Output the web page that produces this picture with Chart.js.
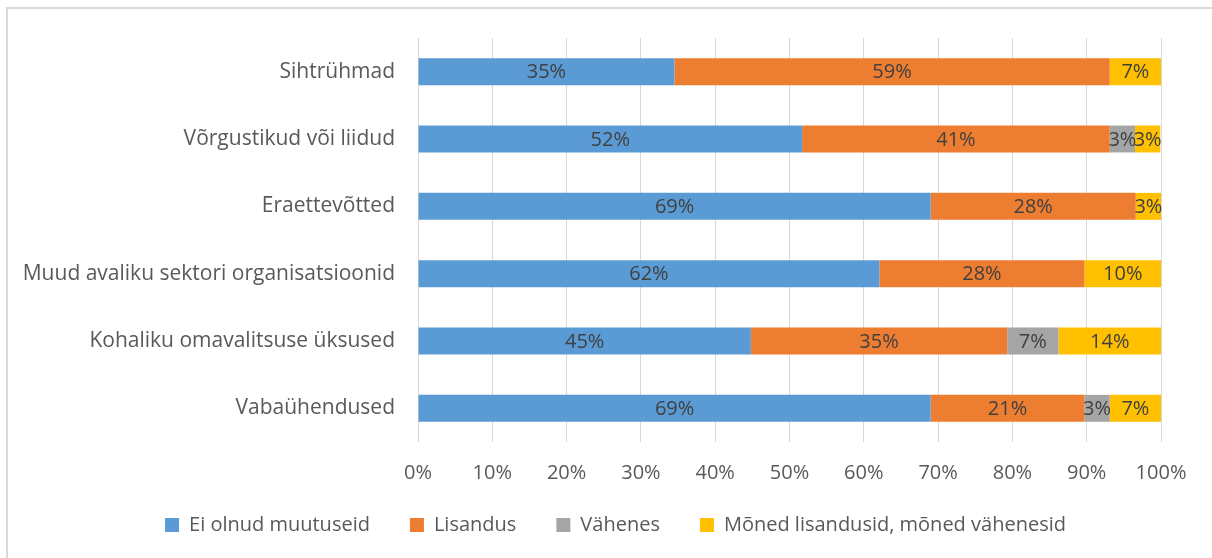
<!DOCTYPE html>
<html>
<head>
<meta charset="utf-8">
<script src="https://cdn.jsdelivr.net/npm/chart.js@4.4.1/dist/chart.umd.min.js"></script>
<style>
  body { margin: 0; background: #fff; }
  #wrap { position: relative; width: 1212px; height: 558px; overflow: hidden; }
  #frame { position: absolute; left: 6px; top: 7px; width: 1240px; height: 600px; border: 2px solid #d9d9d9; box-sizing: border-box; }
  #c { position: absolute; left: 0; top: 0; }
</style>
</head>
<body>
<div id="wrap">
  <div id="frame"></div>
  <canvas id="c" width="1212" height="558"></canvas>
</div>
<script>
// Categories, top to bottom
const categories = [
  'Sihtrühmad',
  'Võrgustikud või liidud',
  'Eraettevõtted',
  'Muud avaliku sektori organisatsioonid',
  'Kohaliku omavalitsuse üksused',
  'Vabaühendused'
];

// Shares in percent
const noChange   = [34.5, 51.7, 69.0, 62.1, 44.8, 69.0];
const added      = [58.6, 41.4, 27.6, 27.6, 34.5, 20.7];
const decreased  = [0,    3.4,  0,    0,    6.9,  3.4];
const mixed      = [6.9,  3.4,  3.4,  10.3, 13.8, 6.9];

const seriesNames = ['Ei olnud muutuseid', 'Lisandus', 'Vähenes', 'Mõned lisandusid, mõned vähenesid'];
const seriesColors = ['#5b9bd5', '#ed7d31', '#a5a5a5', '#ffc000'];

const xTicks = [0, 10, 20, 30, 40, 50, 60, 70, 80, 90, 100];

const FONT = 'Open Sans';
const TEXT = '#595959';

// value labels in the middle of each segment
const barLabels = {
  id: 'barLabels',
  afterDatasetsDraw(chart) {
    const ctx = chart.ctx;
    ctx.save();
    ctx.font = '20px "' + FONT + '"';
    ctx.fillStyle = '#404040';
    ctx.textAlign = 'center';
    ctx.textBaseline = 'middle';
    chart.data.datasets.forEach((ds, i) => {
      chart.getDatasetMeta(i).data.forEach((bar, j) => {
        const v = ds.data[j];
        if (!v) return;
        const cx = (bar.x + bar.base) / 2;
        ctx.fillText(Math.round(v) + '%', cx, bar.y + 1);
      });
    });
    ctx.restore();
  }
};

// nudge the legend box: a bit up and to the right
const legendShift = {
  id: 'legendShift',
  afterLayout(chart) {
    const lg = chart.legend;
    if (!lg) return;
    lg.top -= 11; lg.bottom -= 11;
    lg.left += 35; lg.right += 35;
  }
};

const allSeries = [noChange, added, decreased, mixed];

new Chart(document.getElementById('c'), {
  type: 'bar',
  data: {
    labels: categories,
    datasets: allSeries.map((d, i) => ({
      label: seriesNames[i],
      data: d,
      backgroundColor: seriesColors[i],
      categoryPercentage: 1,
      barPercentage: 0.4
    }))
  },
  options: {
    indexAxis: 'y',
    responsive: false,
    animation: false,
    devicePixelRatio: 1,
    layout: { padding: { left: 0, right: 51, top: 38, bottom: 2 } },
    plugins: {
      legend: {
        position: 'bottom',
        labels: {
          color: TEXT,
          font: { family: FONT, size: 20 },
          boxWidth: 14, boxHeight: 14,
          padding: 40
        }
      },
      tooltip: { enabled: false }
    },
    scales: {
      x: {
        stacked: true,
        min: 0, max: 100,
        afterBuildTicks: s => { s.ticks = xTicks.map(v => ({ value: v })); },
        afterFit: s => { s.height = 44; },
        grid: { color: '#d9d9d9', lineWidth: 1, drawTicks: false },
        border: { display: false },
        ticks: {
          color: TEXT, font: { family: FONT, size: 20 }, padding: 19,
          callback: v => v + '%'
        }
      },
      y: {
        stacked: true,
        afterFit: s => { s.width = 418; },
        grid: { display: false },
        border: { display: false },
        ticks: { color: TEXT, font: { family: FONT, size: 21 }, padding: 15 }
      }
    }
  },
  plugins: [barLabels, legendShift]
});
</script>
</body>
</html>
